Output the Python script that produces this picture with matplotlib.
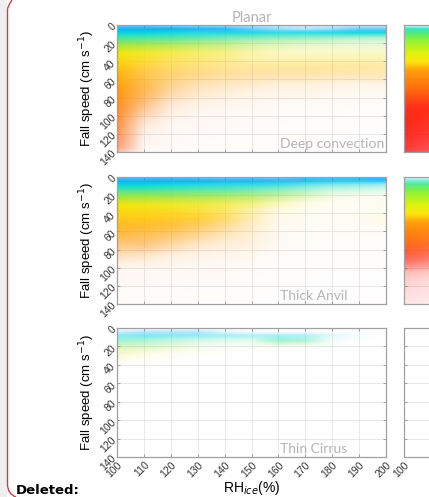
import numpy as np
import matplotlib
matplotlib.use("Agg")
import matplotlib.pyplot as plt
from matplotlib.colors import LinearSegmentedColormap
from matplotlib.path import Path
import matplotlib.patches as patches

# ---- data ----------------------------------------------------------------
# relative point density (0..1) on a coarse grid: one row per RH node,
# values along the fall speed nodes
rh_nodes = [100, 110, 120, 130, 140, 150, 160, 170, 180, 190, 200]
speed_nodes = [0, 4, 8, 14, 20, 28, 36, 45, 55, 65, 75, 85, 95, 105, 115, 125, 135, 140]

deep_convection = [
    [0.50, 0.95, 0.95, 0.95, 0.95, 0.95, 0.95, 0.95, 0.95, 0.95, 0.95, 0.92, 0.90, 0.85, 0.80, 0.75, 0.65, 0.45],
    [0.50, 0.95, 0.95, 0.90, 0.90, 0.85, 0.80, 0.75, 0.70, 0.70, 0.65, 0.55, 0.40, 0.22, 0.12, 0.08, 0.05, 0.03],
    [0.40, 0.95, 0.90, 0.85, 0.80, 0.75, 0.65, 0.60, 0.55, 0.45, 0.35, 0.20, 0.12, 0.08, 0.05, 0.04, 0.03, 0.02],
    [0.35, 0.90, 0.85, 0.80, 0.70, 0.60, 0.55, 0.50, 0.45, 0.30, 0.20, 0.12, 0.07, 0.05, 0.04, 0.03, 0.02, 0.02],
    [0.30, 0.85, 0.85, 0.70, 0.60, 0.50, 0.45, 0.42, 0.38, 0.25, 0.15, 0.08, 0.05, 0.04, 0.03, 0.02, 0.02, 0.01],
    [0.25, 0.60, 0.85, 0.65, 0.45, 0.35, 0.32, 0.38, 0.35, 0.20, 0.10, 0.06, 0.04, 0.03, 0.03, 0.02, 0.02, 0.01],
    [0.20, 0.40, 0.80, 0.60, 0.35, 0.25, 0.28, 0.38, 0.32, 0.15, 0.08, 0.05, 0.03, 0.03, 0.02, 0.02, 0.01, 0.01],
    [0.15, 0.30, 0.80, 0.55, 0.30, 0.20, 0.28, 0.38, 0.32, 0.15, 0.08, 0.04, 0.03, 0.02, 0.02, 0.02, 0.01, 0.01],
    [0.15, 0.40, 0.85, 0.50, 0.25, 0.20, 0.28, 0.38, 0.30, 0.12, 0.06, 0.04, 0.03, 0.02, 0.02, 0.01, 0.01, 0.01],
    [0.15, 0.60, 0.90, 0.45, 0.20, 0.20, 0.28, 0.38, 0.28, 0.10, 0.05, 0.03, 0.02, 0.02, 0.01, 0.01, 0.01, 0.01],
    [0.15, 0.60, 0.90, 0.40, 0.20, 0.20, 0.28, 0.35, 0.28, 0.10, 0.05, 0.03, 0.02, 0.02, 0.01, 0.01, 0.01, 0.01],
]

thick_anvil = [
    [0.60, 0.95, 0.95, 0.95, 0.95, 0.95, 0.95, 0.90, 0.85, 0.70, 0.50, 0.30, 0.12, 0.06, 0.04, 0.03, 0.03, 0.02],
    [0.60, 0.95, 0.95, 0.95, 0.95, 0.90, 0.90, 0.90, 0.80, 0.65, 0.50, 0.25, 0.10, 0.05, 0.04, 0.03, 0.02, 0.02],
    [0.60, 0.95, 0.90, 0.90, 0.90, 0.85, 0.85, 0.85, 0.75, 0.55, 0.35, 0.15, 0.08, 0.05, 0.03, 0.03, 0.02, 0.02],
    [0.50, 0.95, 0.85, 0.85, 0.85, 0.80, 0.75, 0.80, 0.60, 0.40, 0.20, 0.10, 0.06, 0.04, 0.03, 0.02, 0.02, 0.01],
    [0.50, 0.90, 0.80, 0.80, 0.80, 0.70, 0.60, 0.60, 0.40, 0.25, 0.15, 0.08, 0.05, 0.04, 0.03, 0.02, 0.02, 0.01],
    [0.50, 0.90, 0.80, 0.70, 0.70, 0.55, 0.35, 0.30, 0.20, 0.15, 0.12, 0.06, 0.04, 0.03, 0.02, 0.02, 0.01, 0.01],
    [0.50, 0.85, 0.75, 0.60, 0.55, 0.30, 0.12, 0.08, 0.06, 0.05, 0.04, 0.03, 0.02, 0.02, 0.02, 0.01, 0.01, 0.01],
    [0.60, 0.85, 0.60, 0.45, 0.35, 0.12, 0.06, 0.05, 0.04, 0.03, 0.03, 0.02, 0.02, 0.02, 0.01, 0.01, 0.01, 0.01],
    [0.60, 0.80, 0.50, 0.30, 0.15, 0.06, 0.05, 0.04, 0.03, 0.03, 0.02, 0.02, 0.02, 0.01, 0.01, 0.01, 0.01, 0.01],
    [0.70, 0.80, 0.45, 0.25, 0.10, 0.05, 0.05, 0.05, 0.03, 0.03, 0.02, 0.02, 0.02, 0.01, 0.01, 0.01, 0.01, 0.01],
    [0.80, 0.80, 0.40, 0.20, 0.08, 0.05, 0.06, 0.10, 0.04, 0.03, 0.02, 0.02, 0.02, 0.01, 0.01, 0.01, 0.01, 0.01],
]

thin_cirrus = [
    [0.00, 0.20, 0.45, 0.45, 0.35, 0.20, 0.05, 0.00, 0, 0, 0, 0, 0, 0, 0, 0, 0, 0],
    [0.00, 0.30, 0.50, 0.40, 0.30, 0.10, 0.02, 0.00, 0, 0, 0, 0, 0, 0, 0, 0, 0, 0],
    [0.00, 0.30, 0.45, 0.30, 0.20, 0.06, 0.01, 0.00, 0, 0, 0, 0, 0, 0, 0, 0, 0, 0],
    [0.00, 0.30, 0.40, 0.20, 0.10, 0.03, 0.00, 0.00, 0, 0, 0, 0, 0, 0, 0, 0, 0, 0],
    [0.00, 0.10, 0.35, 0.15, 0.05, 0.01, 0.00, 0.00, 0, 0, 0, 0, 0, 0, 0, 0, 0, 0],
    [0.00, 0.05, 0.30, 0.15, 0.03, 0.00, 0.00, 0.00, 0, 0, 0, 0, 0, 0, 0, 0, 0, 0],
    [0.00, 0.03, 0.35, 0.45, 0.05, 0.00, 0.00, 0.00, 0, 0, 0, 0, 0, 0, 0, 0, 0, 0],
    [0.00, 0.03, 0.30, 0.40, 0.03, 0.00, 0.00, 0.00, 0, 0, 0, 0, 0, 0, 0, 0, 0, 0],
    [0.00, 0.02, 0.12, 0.05, 0.01, 0.00, 0.00, 0.00, 0, 0, 0, 0, 0, 0, 0, 0, 0, 0],
    [0.00, 0.01, 0.03, 0.01, 0.00, 0.00, 0.00, 0.00, 0, 0, 0, 0, 0, 0, 0, 0, 0, 0],
    [0.00, 0.00, 0.00, 0.00, 0.00, 0.00, 0.00, 0.00, 0, 0, 0, 0, 0, 0, 0, 0, 0, 0],
]

# second column of panels, only its left edge is in the picture
right_rh_nodes = [100, 110]
right_deep = [
    [0.05, 0.90, 0.95, 0.95, 0.95, 0.95, 0.95, 0.95, 0.95, 0.95, 0.95, 0.95, 0.95, 0.95, 0.90, 0.85, 0.80, 0.75],
    [0.05, 0.90, 0.95, 0.95, 0.95, 0.95, 0.95, 0.95, 0.95, 0.95, 0.95, 0.95, 0.95, 0.90, 0.85, 0.80, 0.70, 0.65],
]
right_anvil = [
    [0.10, 0.60, 0.90, 0.95, 0.95, 0.95, 0.95, 0.95, 0.95, 0.95, 0.90, 0.80, 0.60, 0.30, 0.20, 0.15, 0.12, 0.10],
    [0.10, 0.60, 0.90, 0.95, 0.95, 0.95, 0.95, 0.95, 0.95, 0.90, 0.85, 0.70, 0.50, 0.25, 0.15, 0.12, 0.10, 0.08],
]

regime_names = ["Deep convection", "Thick Anvil", "Thin Cirrus"]
left_data = [deep_convection, thick_anvil, thin_cirrus]
right_data = [right_deep, right_anvil, None]

yticks = [0, 20, 40, 60, 80, 100, 120, 140]
xticks = [100, 110, 120, 130, 140, 150, 160, 170, 180, 190, 200]

# ---- colours (by fall speed) ---------------------------------------------
left_cmap = LinearSegmentedColormap.from_list("left", [
    (0 / 140, (0.00, 0.60, 1.00)),
    (5 / 140, (0.00, 0.72, 0.95)),
    (9 / 140, (0.00, 0.85, 0.85)),
    (15 / 140, (0.30, 0.90, 0.55)),
    (21 / 140, (0.60, 0.90, 0.25)),
    (30 / 140, (0.93, 0.90, 0.00)),
    (40 / 140, (1.00, 0.82, 0.00)),
    (52 / 140, (1.00, 0.70, 0.00)),
    (70 / 140, (1.00, 0.60, 0.00)),
    (90 / 140, (1.00, 0.52, 0.05)),
    (1.0, (1.00, 0.42, 0.20)),
])
right_cmap = LinearSegmentedColormap.from_list("right", [
    (0 / 140, (0.00, 0.85, 0.90)),
    (6 / 140, (0.20, 0.90, 0.60)),
    (15 / 140, (0.50, 0.95, 0.20)),
    (30 / 140, (0.85, 0.95, 0.00)),
    (40 / 140, (1.00, 0.90, 0.00)),
    (50 / 140, (1.00, 0.60, 0.00)),
    (70 / 140, (1.00, 0.40, 0.00)),
    (90 / 140, (1.00, 0.15, 0.05)),
    (1.0, (1.00, 0.00, 0.00)),
])

tick_font = "Liberation Sans"
note_font = "Lato"
gray_txt = "#b4b4b4"


def draw_density(ax, rh, dens, cmap, nx=240, ny=280):
    # render the coarse density grid as one smooth RGBA image
    D = np.array(dens, dtype=float).T
    ys = np.linspace(0, 140, ny)
    xs = np.linspace(rh[0], rh[-1], nx)
    cols = np.array([np.interp(ys, speed_nodes, D[:, j]) for j in range(len(rh))]).T
    alpha = np.array([np.interp(xs, rh, cols[k]) for k in range(ny)])
    rgba = np.repeat(cmap(ys / 140.0)[:, None, :], nx, axis=1)
    rgba[..., 3] = alpha
    ax.imshow(rgba, extent=[rh[0], rh[-1], 140, 0], origin="upper",
              aspect="auto", interpolation="bilinear", zorder=1)


def style_axes(ax, show_x, show_y, x_labels=None):
    ax.set_xlim(100, 200)
    ax.set_ylim(140, 0)
    ax.set_xticks(xticks)
    ax.set_yticks(yticks)
    ax.set_axisbelow(True)
    ax.grid(True, color="#e4e4e4", linewidth=0.6)
    ax.tick_params(direction="in", top=True, right=True, length=2.5,
                   width=0.6, color="#909090", labelsize=7.5,
                   labelcolor="#333333", pad=2)
    for s in ax.spines.values():
        s.set_color("#a0a0a0")
        s.set_linewidth(0.9)
    if show_x:
        labels = x_labels if x_labels is not None else [str(t) for t in xticks]
        ax.set_xticklabels(labels, rotation=45, ha="right",
                           va="top", rotation_mode="anchor", family=tick_font)
    else:
        ax.set_xticklabels([])
    if show_y:
        ax.set_yticklabels([str(t) for t in yticks], rotation=45, ha="right",
                           va="center", rotation_mode="anchor", family=tick_font)
        ax.set_ylabel("Fall speed (cm s$^{-1}$)", fontsize=9.5, family=tick_font,
                      labelpad=1)
    else:
        ax.set_yticklabels([])


fig = plt.figure(figsize=(4.29, 4.97), dpi=100)
W, H = 429.0, 497.0

panel_tops = [25, 177, 328]
panel_bottoms = [152, 304, 457]

for i in range(3):
    b = 1 - panel_bottoms[i] / H
    h = (panel_bottoms[i] - panel_tops[i]) / H
    ax = fig.add_axes([117 / W, b, 269 / W, h])
    draw_density(ax, rh_nodes, left_data[i], left_cmap)
    style_axes(ax, i == 2, True)
    ax.text(160.5, 131, regime_names[i], color=gray_txt, fontsize=10,
            family=note_font, ha="left", va="center")
    if i == 0:
        ax.set_title("Planar", color=gray_txt, fontsize=10.5, family=note_font, pad=2.5)
    if i == 2:
        ax.set_xlabel("RH$_{ice}$(%)", fontsize=10, family=tick_font, labelpad=0)

    axr = fig.add_axes([404 / W, b, 269 / W, h])
    if right_data[i] is not None:
        draw_density(axr, right_rh_nodes, right_data[i], right_cmap)
    # only the first label of this column fits inside the picture
    style_axes(axr, i == 2, False, x_labels=["100"] + [""] * (len(xticks) - 1))

# document margin: gray strip, red comment border and "Deleted:" label
fig.patches.append(patches.Rectangle((0, 0), 7 / W, 1, transform=fig.transFigure,
                                     facecolor="#efefef", edgecolor="none", zorder=0))
verts = [(12 / W, 1.0), (7.5 / W, 1 - 6 / H), (7.5 / W, 1 - 10 / H),
         (7.5 / W, 1 - 484 / H), (7.5 / W, 1 - 494 / H), (16 / W, 0.0)]
codes = [Path.MOVETO, Path.CURVE3, Path.CURVE3, Path.LINETO, Path.CURVE3, Path.CURVE3]
fig.patches.append(patches.PathPatch(Path(verts, codes), transform=fig.transFigure,
                                     facecolor="none", edgecolor="#d04040", linewidth=1.0))
fig.text(16 / W, 1 - 490 / H, "Deleted:", fontsize=9.5, fontweight="bold",
         family="DejaVu Sans", ha="left", va="center", color="black")

fig.savefig("out.png", dpi=100)
